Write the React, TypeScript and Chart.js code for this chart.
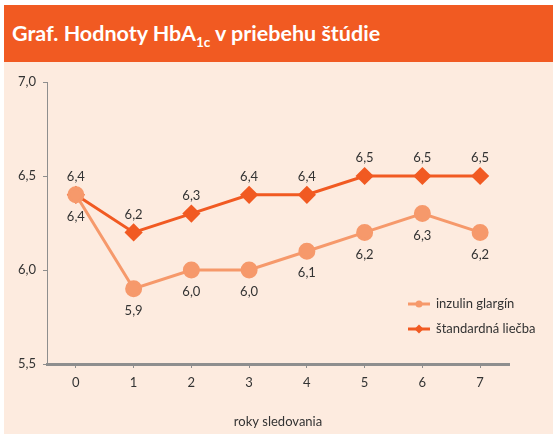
import React, { useEffect, useRef } from "react";
import { Chart, registerables } from "chart.js";

Chart.register(...registerables);

const categories = ["0", "1", "2", "3", "4", "5", "6", "7"];
const inzulinValues = [6.4, 5.9, 6.0, 6.0, 6.1, 6.2, 6.3, 6.2];
const standardValues = [6.4, 6.2, 6.3, 6.4, 6.4, 6.5, 6.5, 6.5];
const seriesNames = ["inzulin glargín", "štandardná liečba"];
const yTicks = [5.5, 6.0, 6.5, 7.0];

const LIGHT = "#F6996B";
const DARK = "#F15A22";
const TEXT = "#333333";
const AXIS = "#8E8E8E";
const FONT = "Lato, 'Open Sans', sans-serif";

const fmt = (v: number) => v.toFixed(1).replace(".", ",");

const labelsPlugin = {
  id: "customLabels",
  afterDatasetsDraw(chart: any) {
    const ctx = chart.ctx;
    ctx.save();
    ctx.font = `13px ${FONT}`;
    ctx.fillStyle = TEXT;
    ctx.textAlign = "center";
    ctx.textBaseline = "middle";
    chart.data.datasets.forEach((ds: any, di: number) => {
      const meta = chart.getDatasetMeta(di);
      meta.data.forEach((pt: any, i: number) => {
        const v = ds.data[i];
        const dy = di === 0 ? 22 : -18;
        ctx.fillText(fmt(v), pt.x, pt.y + dy);
      });
    });
    // legend
    const items = [
      { name: seriesNames[0], color: LIGHT, style: "circle" },
      { name: seriesNames[1], color: DARK, style: "diamond" },
    ];
    const lx = 404;
    const ly = 242;
    items.forEach((it, k) => {
      const y = ly + k * 25;
      ctx.strokeStyle = it.color;
      ctx.lineWidth = 3;
      ctx.beginPath();
      ctx.moveTo(lx, y);
      ctx.lineTo(lx + 22, y);
      ctx.stroke();
      ctx.fillStyle = it.color;
      ctx.beginPath();
      if (it.style === "circle") {
        ctx.arc(lx + 11, y, 3.5, 0, Math.PI * 2);
      } else {
        ctx.moveTo(lx + 11, y - 4.5);
        ctx.lineTo(lx + 15.5, y);
        ctx.lineTo(lx + 11, y + 4.5);
        ctx.lineTo(lx + 6.5, y);
        ctx.closePath();
      }
      ctx.fill();
      ctx.fillStyle = TEXT;
      ctx.textAlign = "left";
      ctx.fillText(it.name, lx + 28, y);
    });
    ctx.restore();
  },
};

function ChartView() {
  const ref = useRef<HTMLCanvasElement | null>(null);
  useEffect(() => {
    if (!ref.current) return;
    const chart = new Chart(ref.current, {
      type: "line",
      data: {
        labels: categories,
        datasets: [
          {
            label: seriesNames[0],
            data: inzulinValues,
            borderColor: LIGHT,
            backgroundColor: LIGHT,
            borderWidth: 3,
            pointStyle: "circle",
            pointRadius: 7,
            pointHoverRadius: 7,
            tension: 0,
          },
          {
            label: seriesNames[1],
            data: standardValues,
            borderColor: DARK,
            backgroundColor: DARK,
            borderWidth: 3,
            pointStyle: "rectRot",
            pointRadius: 7,
            pointHoverRadius: 7,
            tension: 0,
          },
        ],
      },
      options: {
        responsive: false,
        animation: false,
        layout: { padding: { top: 20, right: 44, left: 0, bottom: 0 } },
        plugins: { legend: { display: false }, tooltip: { enabled: false } },
        scales: {
          x: {
            offset: true,
            grid: {
              offset: false,
              drawOnChartArea: false,
              drawTicks: true,
              tickLength: 4,
              color: AXIS,
            },
            border: { color: AXIS, width: 3 },
            ticks: { color: TEXT, font: { family: FONT, size: 13 }, padding: 7 },
            title: {
              display: true,
              text: "roky sledovania",
              color: TEXT,
              font: { family: FONT, size: 13 },
              padding: { top: 0, bottom: 4 },
            },
            afterFit(scale: any) {
              scale.height = 70;
            },
          },
          y: {
            min: 5.5,
            max: 7.0,
            afterBuildTicks(scale: any) {
              scale.ticks = yTicks.map((v) => ({ value: v }));
            },
            grid: {
              drawOnChartArea: false,
              drawTicks: true,
              tickLength: 4,
              color: AXIS,
            },
            border: { color: AXIS, width: 1 },
            ticks: {
              color: TEXT,
              font: { family: FONT, size: 13 },
              padding: 7,
              callback: (v: any) => fmt(Number(v)),
            },
            afterFit(scale: any) {
              scale.width = 43;
            },
          },
        },
      },
      plugins: [labelsPlugin],
    } as any);
    return () => chart.destroy();
  }, []);
  return (
    <canvas
      ref={ref}
      width={549}
      height={372}
      style={{ width: 549, height: 372, display: "block" }}
    />
  );
}

export default function App() {
  return (
    <div
      style={{
        position: "fixed",
        left: 0,
        top: 0,
        width: 553,
        height: 434,
        background: "#ffffff",
        overflow: "hidden",
      }}
    >
      <div
        style={{
          position: "absolute",
          left: 4,
          top: 5,
          width: 549,
          height: 57,
          background: DARK,
          color: "#ffffff",
          fontFamily: FONT,
          fontWeight: 700,
          fontSize: 21.5,
          boxSizing: "border-box",
          paddingLeft: 8,
          lineHeight: "57px",
          whiteSpace: "nowrap",
        }}
      >
        Graf. Hodnoty HbA
        <sub style={{ fontSize: 13.5, verticalAlign: "-6px", lineHeight: 0 }}>1c</sub>
        {" v priebehu štúdie"}
      </div>
      <div
        style={{
          position: "absolute",
          left: 4,
          top: 62,
          width: 549,
          height: 372,
          background: "#FDEBDF",
        }}
      >
        <ChartView />
      </div>
    </div>
  );
}
